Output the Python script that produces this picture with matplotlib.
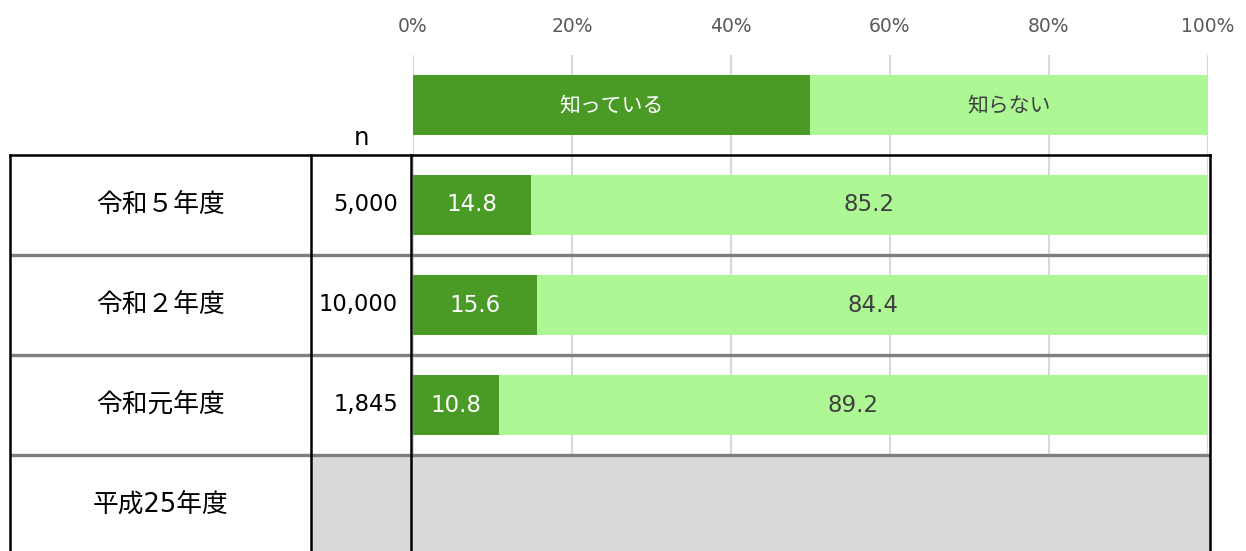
import matplotlib
matplotlib.use("Agg")
import matplotlib.pyplot as plt
from matplotlib.patches import Rectangle

plt.rcParams['font.family'] = ['DejaVu Sans', 'Noto Sans CJK JP']

# ---- data ----
years = ["令和５年度", "令和２年度", "令和元年度", "平成25年度"]
n_values = ["5,000", "10,000", "1,845", None]
known = [14.8, 15.6, 10.8, None]
unknown = [85.2, 84.4, 89.2, None]
legend_labels = ["知っている", "知らない"]
xticks = [0, 20, 40, 60, 80, 100]
xtick_labels = ["0%", "20%", "40%", "60%", "80%", "100%"]

DARK = "#4a9a26"
LIGHT = "#adf794"
W, H = 1246, 551

fig = plt.figure(figsize=(W / 100, H / 100), dpi=100)
ax = fig.add_axes([413 / W, 0, 795 / W, (H - 55) / H])
ax.set_xlim(0, 100)
ax.set_ylim(4.46, -0.5)

# grid
ax.set_xticks(xticks)
ax.set_xticklabels(xtick_labels)
ax.xaxis.tick_top()
ax.tick_params(axis='x', length=0, pad=14, labelsize=13.5, labelcolor="#595959")
ax.set_yticks([])
for s in ax.spines.values():
    s.set_visible(False)
ax.grid(axis='x', color="#d9d9d9", linewidth=1.5, zorder=0)
ax.set_axisbelow(True)

# legend bar
ax.barh(0, 50, left=0, height=0.6, color=DARK, zorder=2)
ax.barh(0, 50, left=50, height=0.6, color=LIGHT, zorder=2)
ax.text(25, 0, legend_labels[0], ha='center', va='center', color='white', fontsize=15, zorder=3)
ax.text(75, 0, legend_labels[1], ha='center', va='center', color='#404040', fontsize=15, zorder=3)

# data bars
for i, (k, u) in enumerate(zip(known, unknown)):
    y = i + 1
    if k is None:
        continue
    ax.barh(y, k, left=0, height=0.6, color=DARK, zorder=2)
    ax.barh(y, u, left=k, height=0.6, color=LIGHT, zorder=2)
    ax.text(k / 2, y, f"{k:.1f}", ha='center', va='center', color='white', fontsize=16.5, zorder=3)
    ax.text(k + u / 2, y, f"{u:.1f}", ha='center', va='center', color='#404040', fontsize=16.5, zorder=3)

# table structure (x in axes coords, y in data coords)
tr = ax.get_yaxis_transform()
def px(x):
    return (x - 413) / 795

xL, xC1, xC2, xR = px(10), px(311), px(411), px(1210)
nrows = len(years)
ybot = 4.6

# gray empty row
for i, k in enumerate(known):
    if k is None:
        ax.add_patch(Rectangle((xC1, i + 0.5), xR - xC1, ybot - (i + 0.5), transform=tr,
                               facecolor="#d9d9d9", edgecolor='none', clip_on=False, zorder=4))

# row separators
for i in range(1, nrows):
    ax.plot([xL, xR], [i + 0.5, i + 0.5], transform=tr, color="#7f7f7f", lw=2.4,
            clip_on=False, zorder=5, solid_capstyle='butt')
# outer border and column lines
ax.plot([xL, xR], [0.5, 0.5], transform=tr, color='black', lw=1.8, clip_on=False, zorder=6)
for xv in (xL, xC1, xC2, xR):
    ax.plot([xv, xv], [0.5, ybot], transform=tr, color='black', lw=1.8, clip_on=False, zorder=6,
            solid_capstyle='projecting')

# labels
ax.text(px(361), 0.33, "n", transform=tr, ha='center', va='center', fontsize=17.5, color='black')
for i, (yr, n) in enumerate(zip(years, n_values)):
    y = i + 1
    ax.text(px(161), y, yr, transform=tr, ha='center', va='center', fontsize=18.5, color='black', zorder=7)
    if n is not None:
        ax.text(px(398), y, n, transform=tr, ha='right', va='center', fontsize=16.3, color='black', zorder=7)

fig.savefig("out.png", dpi=100)
